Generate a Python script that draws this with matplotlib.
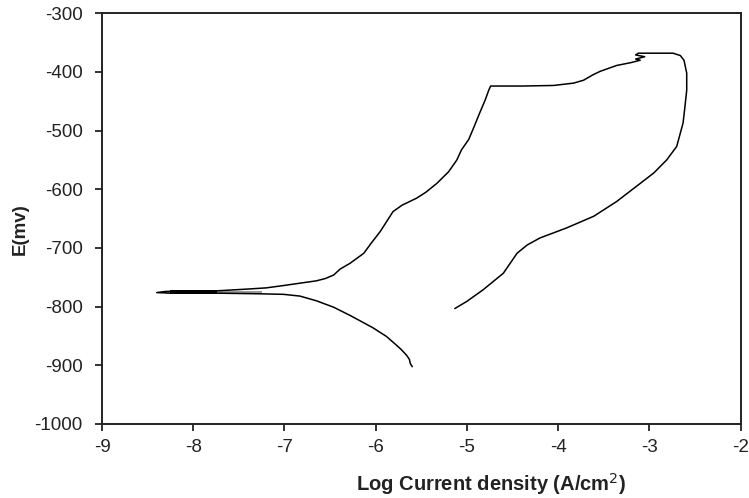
import matplotlib
matplotlib.use("Agg")
import matplotlib.pyplot as plt

# Potentiodynamic sweep: log current density (A/cm2) vs potential (mV)
log_i = [-5.60, -5.62, -5.63, -5.66, -5.72, -5.77, -5.88, -6.03, -6.28, -6.46,
         -6.65, -6.83, -7.01, -7.30, -7.74, -8.25, -8.40,
         -8.30, -7.74, -7.40, -7.20, -7.01, -6.83, -6.65, -6.55, -6.46, -6.39,
         -6.28, -6.13, -6.05, -5.95, -5.88, -5.81, -5.71, -5.55, -5.45, -5.33,
         -5.20, -5.11, -5.06, -4.98, -4.92, -4.86, -4.80, -4.76, -4.74, -4.40,
         -4.05, -3.83, -3.72, -3.62, -3.54, -3.36, -3.20, -3.10, -3.15, -3.05,
         -3.15, -3.12, -2.74, -2.66, -2.62, -2.59, -2.59, -2.61, -2.63, -2.70,
         -2.81, -2.95, -3.10, -3.36, -3.61, -3.91, -4.20, -4.34, -4.45, -4.60,
         -4.82, -5.00, -5.13]
potential = [-902, -897, -890, -883, -873, -866, -851, -836, -815, -801,
             -790, -782, -779, -778, -777, -777, -776,
             -774, -773, -770, -768, -764, -760, -756, -752, -746, -736,
             -726, -709, -692, -672, -655, -638, -627, -615, -605, -590,
             -570, -550, -533, -515, -493, -470, -448, -431, -424, -424,
             -423, -419, -414, -405, -399, -389, -384, -380, -378, -374,
             -371, -368, -368, -372, -380, -402, -431, -460, -487, -527,
             -550, -572, -590, -621, -646, -666, -683, -695, -709, -743,
             -771, -791, -803]

# noisy overlap near the corrosion potential
band_dark_x = [-8.25, -7.74]
band_dark_lo = [-778, -778]
band_dark_hi = [-772, -772]
band_gray_x = [-7.74, -7.25]
band_gray_lo = [-777, -777]
band_gray_hi = [-773, -773]

x_ticks = [-9, -8, -7, -6, -5, -4, -3, -2]
y_ticks = [-1000, -900, -800, -700, -600, -500, -400, -300]

plt.rcParams['font.family'] = ['Liberation Sans', 'DejaVu Sans']
plt.rcParams['axes.unicode_minus'] = False

fig = plt.figure(figsize=(7.49, 4.98), dpi=100)
ax = fig.add_axes([0.1362, 0.1486, 0.8525, 0.8247])

ax.fill_between(band_dark_x, band_dark_lo, band_dark_hi, color='black', lw=0)
ax.fill_between(band_gray_x, band_gray_lo, band_gray_hi, color='#9a9a9a', lw=0)
ax.plot(log_i, potential, color='black', lw=1.1)

ax.set_xlim(-9, -2)
ax.set_ylim(-1000, -300)
ax.set_xticks(x_ticks)
ax.set_yticks(y_ticks)
ax.tick_params(direction='out', length=5, width=1.3, labelsize=13.5, colors='#222222')
ax.tick_params(axis='y', pad=9)
ax.tick_params(axis='x', pad=6)
for s in ax.spines.values():
    s.set_linewidth(1.4)
    s.set_color('#222222')

ax.set_xlabel('Log Current density (A/cm$^2$)', fontsize=14.5, fontweight='bold', color='#222222')
ax.set_ylabel('E(mv)', fontsize=13.5, fontweight='bold', color='#222222')
ax.xaxis.set_label_coords(0.61, -0.115)
ax.yaxis.set_label_coords(-0.115, 0.475)

fig.savefig('out.png', dpi=100)
